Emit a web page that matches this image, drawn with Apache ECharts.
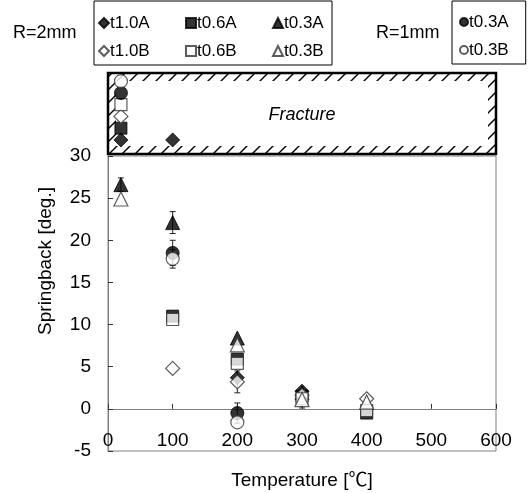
<!DOCTYPE html>
<html><head><meta charset="utf-8">
<script src="https://cdn.jsdelivr.net/npm/echarts@6/dist/echarts.min.js"></script>
<style>html,body{margin:0;padding:0;background:#fff}#c{width:532px;height:493px}</style>
</head><body><div id="c"></div><script>
// Temperatures [°C]
const temps = [20, 100, 200, 300, 400];
// Springback [deg.] (null = no value / fractured)
const t10A = [null, null, 3.7, 2.1, null];
const t06A = [null, 11.0, 5.9, 1.5, -0.5];
const t03A = [26.6, 22.1, 8.4, 1.9, null];
const t10B = [null, 4.8, 3.2, 1.6, 1.2];
const t06B = [null, 10.6, 5.4, 1.2, -0.2];
const t03B = [24.9, null, 7.6, 1.1, 0.8];
const r1t03A = [null, 18.5, -0.5, null, null];
const r1t03B = [null, 17.8, -1.6, null, null];
// Error bar half-widths (0 = none)
const e10A = [0, 0, 0, 0, 0];
const e06A = [0, 0, 0, 0, 0];
const e03A = [0.8, 1.3, 0, 0, 0];
const e10B = [0, 0, 1.3, 0, 0];
const e06B = [0, 0, 0, 0, 0];
const e03B = [0, 0, 0, 1.0, 0];
const er1A = [0, 1.5, 1.2, 0, 0];
const er1B = [0, 1.1, 0, 0, 0];
// Fracture: stacking position inside the fracture box (0 = not fractured)
const f10A = [1, 1, 0, 0, 0];
const f06A = [2, 0, 0, 0, 0];
const f03A = [0, 0, 0, 0, 0];
const f10B = [3, 0, 0, 0, 0];
const f06B = [4, 0, 0, 0, 0];
const f03B = [0, 0, 0, 0, 0];
const fr1A = [5, 0, 0, 0, 0];
const fr1B = [6, 0, 0, 0, 0];
// Axis ticks
const xMin = 0, xMax = 600, xStep = 100;
const yMin = -5, yMax = 30, yStep = 5;

const FONT = '"Liberation Sans", Arial, "Noto Sans CJK JP", sans-serif';
const FILLED = {color:'#000', borderColor:'#000', borderWidth:1};
const OPEN = {color:'#fff', borderColor:'#333', borderWidth:1.2};

const defs = [
  {name:'t1.0A', v:t10A, e:e10A, f:f10A, symbol:'diamond', size:14, style:FILLED},
  {name:'t0.6A', v:t06A, e:e06A, f:f06A, symbol:'rect', size:12, style:FILLED},
  {name:'t0.3A', v:t03A, e:e03A, f:f03A, symbol:'triangle', size:14, style:FILLED},
  {name:'t1.0B', v:t10B, e:e10B, f:f10B, symbol:'diamond', size:14, style:OPEN},
  {name:'t0.6B', v:t06B, e:e06B, f:f06B, symbol:'rect', size:12, style:OPEN},
  {name:'t0.3B', v:t03B, e:e03B, f:f03B, symbol:'triangle', size:14, style:OPEN},
  {name:'R1 t0.3A', v:r1t03A, e:er1A, f:fr1A, symbol:'circle', size:13, style:FILLED},
  {name:'R1 t0.3B', v:r1t03B, e:er1B, f:fr1B, symbol:'circle', size:13, style:OPEN}
];

const series = [];
// fracture box (hatched) drawn in the upper grid
series.push({
  type:'custom', xAxisIndex:1, yAxisIndex:1, z:1, silent:true,
  data:[[300, 3]],
  renderItem: function(params, api){
    const r = params.coordSys;
    const x0 = r.x, y0 = r.y, x1 = r.x + r.width, y1 = r.y + r.height;
    const step = 13, b = 8;
    const ch = [];
    for (let c = x0 + y0 + 4; c <= x1 + y1; c += step) {
      const xa = Math.max(x0, c - y1), xb = Math.min(x1, c - y0);
      if (xb > xa) ch.push({type:'line', shape:{x1:xa, y1:c - xa, x2:xb, y2:c - xb}, style:{stroke:'#000', lineWidth:1.5}});
    }
    ch.push({type:'rect', shape:{x:x0 + b, y:y0 + b, width:r.width - 2*b, height:r.height - 2*b}, style:{fill:'#fff'}});
    ch.push({type:'rect', shape:{x:x0, y:y0, width:r.width, height:r.height}, style:{fill:null, stroke:'#000', lineWidth:2.5}});
    ch.push({type:'text', style:{text:'Fracture', x:(x0 + x1)/2, y:(y0 + y1)/2 + 1, align:'center', verticalAlign:'middle',
      fontSize:18, fontStyle:'italic', fontFamily:FONT, fill:'#000'}});
    return {type:'group', children:ch};
  }
});
// error bars
const errData = [];
defs.forEach(d => temps.forEach((t, i) => {
  if (d.v[i] != null && d.e[i] > 0) errData.push([t, d.v[i] - d.e[i], d.v[i] + d.e[i]]);
}));
series.push({
  type:'custom', xAxisIndex:0, yAxisIndex:0, z:2, silent:true,
  encode:{x:0, y:[1, 2]},
  data: errData,
  renderItem: function(params, api){
    const x = api.value(0);
    const pLo = api.coord([x, api.value(1)]), pHi = api.coord([x, api.value(2)]);
    const st = {stroke:'#222', lineWidth:1};
    return {type:'group', children:[
      {type:'line', shape:{x1:pLo[0], y1:pLo[1], x2:pHi[0], y2:pHi[1]}, style:st},
      {type:'line', shape:{x1:pLo[0]-3, y1:pLo[1], x2:pLo[0]+3, y2:pLo[1]}, style:st},
      {type:'line', shape:{x1:pHi[0]-3, y1:pHi[1], x2:pHi[0]+3, y2:pHi[1]}, style:st}
    ]};
  }
});
// data points
defs.forEach(d => {
  const main = [], frac = [];
  temps.forEach((t, i) => {
    if (d.v[i] != null) main.push([t, d.v[i]]);
    if (d.f[i] > 0) frac.push([t, d.f[i]]);
  });
  series.push({type:'scatter', name:d.name, xAxisIndex:0, yAxisIndex:0, z:3, data:main,
    symbol:d.symbol, symbolSize:d.size, itemStyle:d.style});
  series.push({type:'scatter', name:d.name, xAxisIndex:1, yAxisIndex:1, z:3, data:frac,
    symbol:d.symbol, symbolSize:d.size, itemStyle:d.style});
});

const axisGray = '#808080';
const chart = echarts.init(document.getElementById('c'), null, {renderer:'canvas'});
chart.setOption({
  animation:false,
  backgroundColor:'#fff',
  title:[
    {text:'R=2mm', left:13, top:24, padding:0, textStyle:{fontSize:18, fontWeight:'normal', fontFamily:FONT, color:'#000'}},
    {text:'R=1mm', left:376, top:24, padding:0, textStyle:{fontSize:18, fontWeight:'normal', fontFamily:FONT, color:'#000'}}
  ],
  legend:[
    {
      left:94, top:1, orient:'horizontal', width:232, selectedMode:false,
      padding:[12, 6, 4, 4], itemGap:8, itemWidth:10, itemHeight:10,
      borderColor:'#000', borderWidth:1,
      data:['t1.0A','t0.6A','t0.3A','t1.0B','t0.6B','t0.3B'],
      formatter: n => (n.indexOf('0.3') >= 0 ? '{c|' + n + '}' : '{w|' + n + '}'),
      textStyle:{fontSize:17, lineHeight:20, fontFamily:FONT, color:'#000', padding:[0, 0, 0, -4],
        rich:{w:{width:67, fontSize:17, lineHeight:20, fontFamily:FONT, color:'#000'},
              c:{width:42, fontSize:17, lineHeight:20, fontFamily:FONT, color:'#000'}}}
    },
    {
      left:452, top:1, orient:'vertical', selectedMode:false,
      padding:[11, 17, 4, 7], itemGap:8, itemWidth:8, itemHeight:8,
      borderColor:'#000', borderWidth:1,
      data:['R1 t0.3A','R1 t0.3B'],
      formatter: n => n.replace('R1 ', ''),
      textStyle:{fontSize:17, lineHeight:20, fontFamily:FONT, color:'#000', padding:[0, 0, 0, -4]}
    }
  ],
  grid:[
    {left:108, right:36, top:156, bottom:42, show:true, borderColor:axisGray, borderWidth:1, outerBoundsMode:'none', containLabel:false},
    {left:108, right:36, top:73, height:81, show:false, outerBoundsMode:'none', containLabel:false}
  ],
  xAxis:[
    {gridIndex:0, type:'value', min:xMin, max:xMax, interval:xStep,
     axisLine:{show:true, onZero:true, lineStyle:{color:axisGray}},
     axisTick:{show:true, inside:true, length:5, lineStyle:{color:'#333'}},
     axisLabel:{margin:-20, fontSize:19, color:'#000', fontFamily:FONT, showMinLabel:true, showMaxLabel:true},
     splitLine:{show:false},
     name:'Temperature [℃]', nameLocation:'middle', nameGap:20,
     nameTextStyle:{fontSize:19, color:'#000', fontFamily:FONT}},
    {gridIndex:1, type:'value', min:xMin, max:xMax, show:false}
  ],
  yAxis:[
    {gridIndex:0, type:'value', min:yMin, max:yMax, interval:yStep,
     axisLine:{show:true, onZero:false, lineStyle:{color:axisGray}},
     axisTick:{show:true, inside:true, length:5, lineStyle:{color:'#333'}},
     axisLabel:{margin:17, fontSize:19, color:'#000', fontFamily:FONT},
     splitLine:{show:false},
     name:'Springback [deg.]', nameLocation:'middle', nameGap:53,
     nameTextStyle:{fontSize:19, color:'#000', fontFamily:FONT, padding:[0, 0, 0, 85]}},
    {gridIndex:1, type:'value', min:-0.2, max:6.7, show:false}
  ],
  series: series
});
</script></body></html>
